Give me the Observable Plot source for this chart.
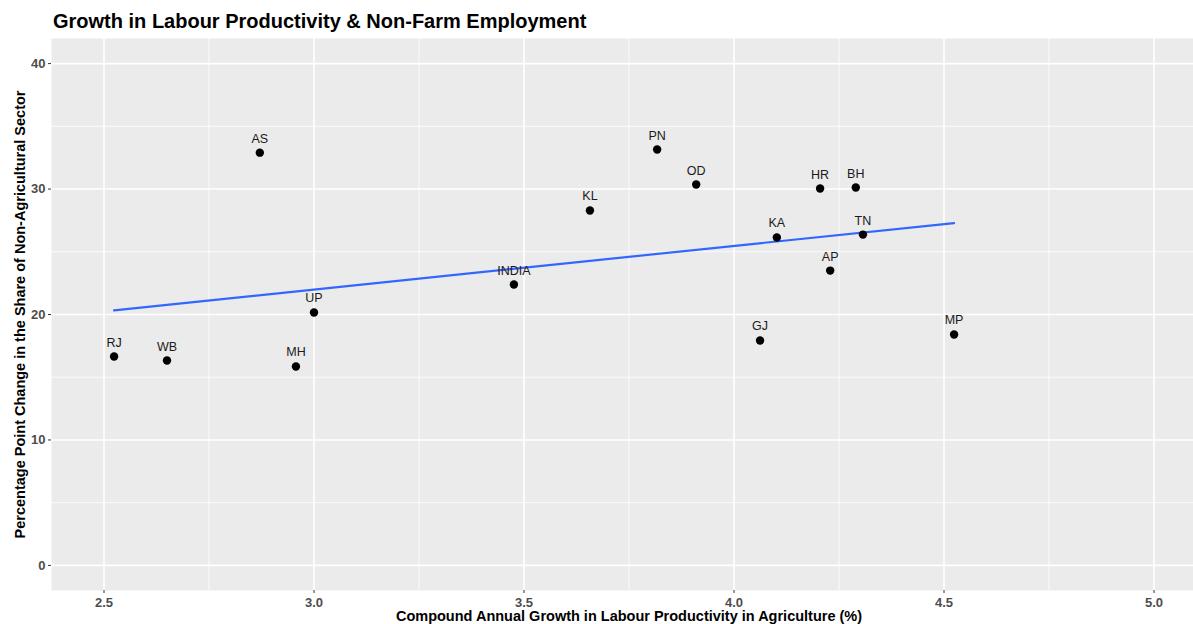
<!DOCTYPE html>
<html>
<head>
<meta charset="utf-8">
<script src="https://cdn.jsdelivr.net/npm/d3@7"></script>
<script src="https://cdn.jsdelivr.net/npm/@observablehq/plot@0.6"></script>
<style>
  html, body { margin: 0; padding: 0; background: white; overflow: hidden; }
  body { width: 1193px; height: 624px; font-family: "Liberation Sans", Arial, Helvetica, sans-serif; }
  #title {
    height: 23px;
    padding: 11px 0 0 53px;
    font-size: 20px;
    line-height: 20px;
    font-weight: bold;
    color: #000;
    white-space: nowrap;
  }
  #chart svg { overflow: hidden; }
</style>
</head>
<body>
<div id="title">Growth in Labour Productivity &amp; Non-Farm Employment</div>
<div id="chart"></div>
<script>
// States (and the all-India figure) with their agricultural productivity growth
// and the change in the non-agricultural share of employment.
const states = ["RJ", "WB", "AS", "MH", "UP", "INDIA", "KL", "PN", "OD", "GJ", "KA", "HR", "AP", "BH", "TN", "MP"];
const productivityGrowth = [2.524, 2.65, 2.871, 2.957, 3.0, 3.476, 3.657, 3.817, 3.91, 4.062, 4.102, 4.205, 4.229, 4.29, 4.307, 4.524];
const nonFarmShareChange = [16.65, 16.33, 32.9, 15.86, 20.16, 22.39, 28.29, 33.15, 30.36, 17.93, 26.14, 30.04, 23.5, 30.12, 26.37, 18.41];

// Axis breaks
const xTicks = [2.5, 3.0, 3.5, 4.0, 4.5, 5.0];
const xMinor = [2.75, 3.25, 3.75, 4.25, 4.75];
const yTicks = [0, 10, 20, 30, 40];
const yMinor = [5, 15, 25, 35];

const xTitle = "Compound Annual Growth in Labour Productivity in Agriculture (%)";
const yTitle = "Percentage Point Change in the Share of Non-Agricultural Sector";

const data = states.map((s, i) => ({state: s, x: productivityGrowth[i], y: nonFarmShareChange[i]}));

const font = "'Liberation Sans', Arial, Helvetica, sans-serif";

const chart = Plot.plot({
  width: 1193,
  height: 590,
  marginLeft: 51,
  marginRight: -13,
  marginTop: 4,
  marginBottom: 34,
  style: {fontFamily: font, background: "white", overflow: "hidden"},
  x: {domain: [2.375, 5.125]},
  y: {domain: [-2, 42]},
  marks: [
    Plot.frame({fill: "#EBEBEB", stroke: null}),
    Plot.gridX(xMinor, {stroke: "white", strokeOpacity: 1, strokeWidth: 0.8}),
    Plot.gridY(yMinor, {stroke: "white", strokeOpacity: 1, strokeWidth: 0.8}),
    Plot.gridX(xTicks, {stroke: "white", strokeOpacity: 1, strokeWidth: 1.6}),
    Plot.gridY(yTicks, {stroke: "white", strokeOpacity: 1, strokeWidth: 1.6}),
    Plot.axisX(xTicks, {
      tickFormat: d3.format(".1f"), tickSize: 3, tickPadding: 4,
      stroke: "#333333", fill: "#4D4D4D", fontSize: 13, fontWeight: "bold", label: null
    }),
    Plot.axisY(yTicks, {
      tickFormat: d3.format("d"), tickSize: 3, tickPadding: 3,
      stroke: "#333333", fill: "#4D4D4D", fontSize: 13, fontWeight: "bold", label: null
    }),
    Plot.text([xTitle], {
      frameAnchor: "bottom", dy: 26, lineAnchor: "middle", textAnchor: "middle",
      fontSize: 14.5, fontWeight: "bold", fill: "black"
    }),
    Plot.text([yTitle], {
      frameAnchor: "left", dx: -31, rotate: -90, lineAnchor: "middle", textAnchor: "middle",
      fontSize: 14.5, fontWeight: "bold", fill: "black"
    }),
    Plot.linearRegressionY(data, {x: "x", y: "y", stroke: "#3366FF", strokeWidth: 2.2, ci: 0}),
    Plot.dot(data, {x: "x", y: "y", r: 4.2, fill: "black", stroke: null}),
    Plot.text(data, {
      x: "x", y: "y", text: "state", dy: -14,
      fontSize: 12.5, fill: "#1A1A1A"
    })
  ]
});

document.getElementById("chart").append(chart);
</script>
</body>
</html>
